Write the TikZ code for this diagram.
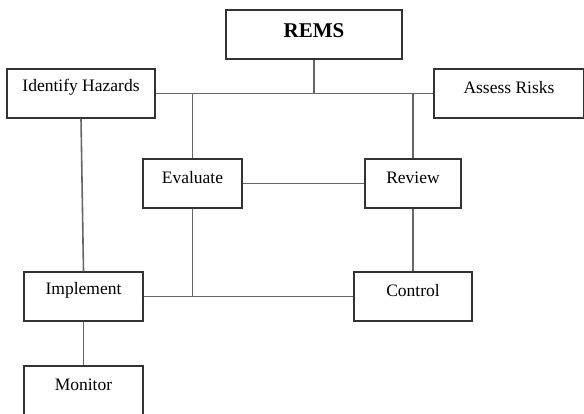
\documentclass[tikz,border=0pt]{standalone}
\usepackage{fontspec}
\setmainfont{Liberation Serif}
\begin{document}
\begin{tikzpicture}[x=1pt,y=-1pt,
  box/.style={draw=black!80, line width=1.3pt, inner sep=0pt, fill=white},
  txt/.style={label={[yshift=6pt, font=\fontsize{17.5}{20}\selectfont]center:#1}},
  conn/.style={draw=black!60, line width=1.6pt}]
\useasboundingbox (0,0) rectangle (584,414);
\clip (0,0) rectangle (584,414);
\coordinate (jS) at (314,94);
\coordinate (jE) at (192.5,94);
\coordinate (jR) at (413,94);
% boxes
\node[box, minimum width=176pt, minimum height=49pt,
  label={[yshift=4pt, font=\fontsize{21}{24}\selectfont\bfseries]center:REMS}] (rems) at (314,34.5) {};
\node[box, minimum width=148pt, minimum height=49pt, txt={Identify Hazards}] (ih) at (81,93.5) {};
\node[box, minimum width=150pt, minimum height=49pt, txt={Assess Risks}] (ar) at (509,93.5) {};
\node[box, minimum width=99pt, minimum height=49pt, txt={Evaluate}] (ev) at (192.5,183.5) {};
\node[box, minimum width=96pt, minimum height=49pt, txt={Review}] (rv) at (413,183.5) {};
\node[box, minimum width=119pt, minimum height=49pt, txt={Implement}] (im) at (83.5,296.5) {};
\node[box, minimum width=118pt, minimum height=49pt, txt={Control}] (ct) at (413,296.5) {};
\node[box, minimum width=119pt, minimum height=49pt, txt={Monitor}] (mo) at (83.5,390.5) {};
% connectors
\draw[conn] (rems.south) -- (jS);
\draw[conn] (ih.east) -- (ar.west);
\draw[conn] (jE) -- (ev.north);
\draw[conn] (jR) -- (rv.north);
\draw[conn] (ev.east) -- (rv.west);
\draw[conn] (rv.south) -- (ct.north);
\draw[conn] (im.east) -- (ct.west);
\draw[conn] (ev.south) -- (ev.south |- im.east);
\draw[conn] (ih.south) -- (im.north);
\draw[conn] (im.south) -- (mo.north);
\end{tikzpicture}
\end{document}
